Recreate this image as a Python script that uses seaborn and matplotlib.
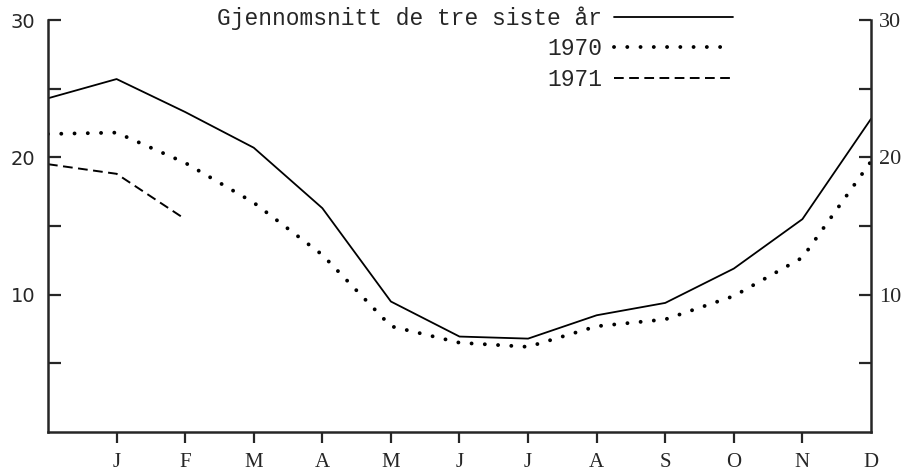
import matplotlib
matplotlib.use("Agg")
import matplotlib.pyplot as plt
import seaborn as sns
import pandas as pd

# x position 0 is previous December, 1..12 are J..D
month_pos = list(range(13))
month_labels = ["J", "F", "M", "A", "M", "J", "J", "A", "S", "O", "N", "D"]

avg_3yr = [24.3, 25.7, 23.3, 20.7, 16.3, 9.5, 6.95, 6.8, 8.5, 9.4, 11.9, 15.5, 22.8]
y1970 = [21.7, 21.8, 19.6, 16.7, 12.9, 7.7, 6.5, 6.2, 7.7, 8.2, 9.9, 12.7, 19.7]
y1971 = [19.5, 18.8, 15.5]

y_ticks = [5, 10, 15, 20, 25, 30]
y_ticklabels = ["", "10", "", "20", "", "30"]

df = pd.DataFrame({"pos": month_pos, "avg": avg_3yr, "y1970": y1970})
df71 = pd.DataFrame({"pos": month_pos[:len(y1971)], "val": y1971})

sns.set_style("ticks")
plt.rcParams["font.family"] = ["DejaVu Sans"]

fig = plt.figure(figsize=(9.14, 4.71), dpi=100)
ax = fig.add_axes([48 / 914, 39 / 471, 823 / 914, 412 / 471])

sns.lineplot(data=df, x="pos", y="avg", ax=ax, color="black", lw=1.3,
             label="Gjennomsnitt de tre siste år")
sns.lineplot(data=df, x="pos", y="y1970", ax=ax, color="black", lw=2.8,
             linestyle=(0, (0.01, 3.4)), dash_capstyle="round", label="1970")
sns.lineplot(data=df71, x="pos", y="val", ax=ax, color="black", lw=1.4,
             linestyle=(0, (5, 2.8)), label="1971")

ax.set_xlim(0, 12)
ax.set_ylim(0, 30)
ax.set_xlabel("")
ax.set_ylabel("")

ax.set_xticks(month_pos[1:])
ax.set_xticklabels(month_labels, fontfamily="Liberation Serif", fontsize=15)
ax.tick_params(axis="x", direction="out", length=8, width=1.6, pad=7)
ax.xaxis.get_major_ticks()[-1].tick1line.set_visible(False)

ax.set_yticks(y_ticks)
ax.set_yticklabels(y_ticklabels, fontsize=14)
ax.tick_params(axis="y", direction="in", length=9, width=1.6, pad=9)

ax2 = ax.twinx()
ax2.set_ylim(0, 30)
ax2.set_yticks(y_ticks)
ax2.set_yticklabels(y_ticklabels, fontfamily="Liberation Serif", fontsize=16)
ax2.tick_params(axis="y", direction="in", length=9, width=1.6, pad=6)

for a in (ax, ax2):
    a.spines["top"].set_visible(False)
    for s in ("left", "right", "bottom"):
        a.spines[s].set_linewidth(1.8)
ax.spines["right"].set_visible(False)
ax2.spines["left"].set_visible(False)
ax2.spines["bottom"].set_visible(False)

ax.legend(loc="upper right", bbox_to_anchor=(733 / 914, 1 - 6 / 471),
          bbox_transform=fig.transFigure, markerfirst=False, frameon=False,
          prop={"family": "Liberation Mono", "size": 16.5},
          handlelength=5.2, handletextpad=0.5, labelspacing=0.33,
          borderpad=0, borderaxespad=0)

fig.savefig("out.png", dpi=100)
